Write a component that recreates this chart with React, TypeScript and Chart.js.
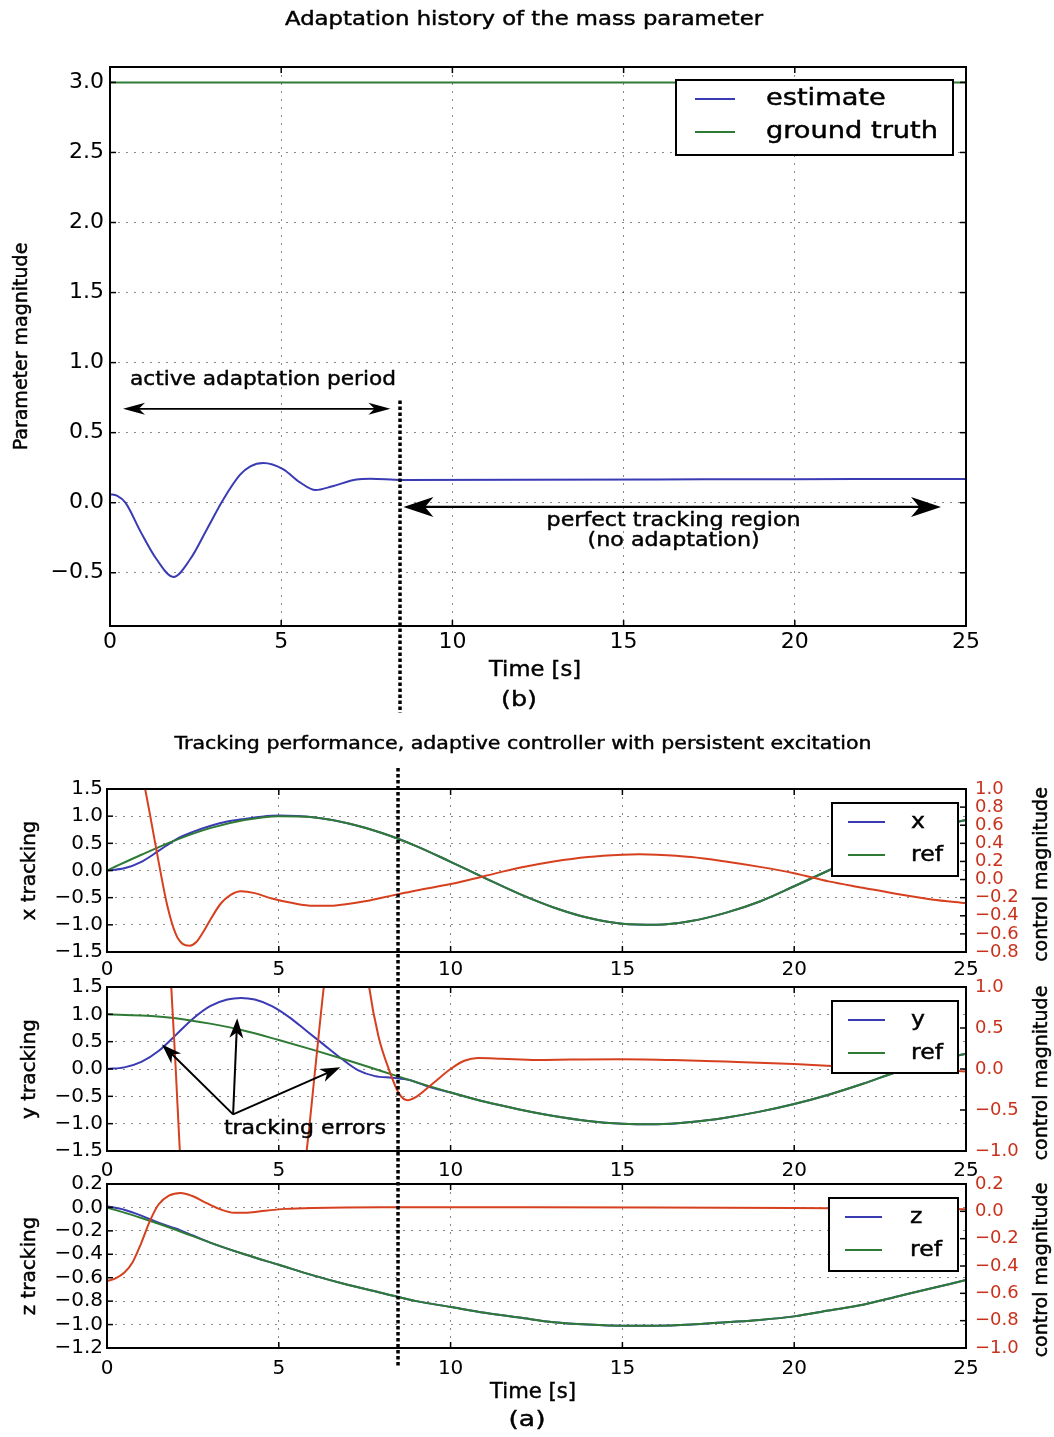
import { useEffect, useRef } from 'react';
import { Chart, registerables } from 'chart.js';

Chart.register(...registerables);

// ---------------- shared time axis ----------------
const timeTicks = [0, 5, 10, 15, 20, 25];
const adaptationEnd = 8.47;

// ---------------- (b) mass parameter adaptation ----------------
const massTicks = [-0.5, 0, 0.5, 1, 1.5, 2, 2.5, 3];
const massEstimateTime = [0, 0.2, 0.45, 0.9, 1.35, 1.85, 2.35, 2.85, 3.3, 3.8, 4.1, 4.48, 5.05, 5.55, 6.0, 6.5, 7.2, 7.6, 8.5, 12, 16, 20, 25];
const massEstimate = [0.06, 0.05, 0.0, -0.21, -0.4, -0.53, -0.4, -0.18, 0.02, 0.2, 0.26, 0.283, 0.24, 0.145, 0.09, 0.118, 0.166, 0.171, 0.163, 0.164, 0.166, 0.168, 0.17];
const massTruthTime = [0, 25];
const massTruth = [3.0, 3.0];

// ---------------- (a) tracking, x ----------------
const trackTicks = [-1.5, -1, -0.5, 0, 0.5, 1, 1.5];
const xCtrlTicks = [-0.8, -0.6, -0.4, -0.2, 0, 0.2, 0.4, 0.6, 0.8, 1.0];
const xRefTime = [0, 1, 2, 3, 4, 5, 6, 7, 8, 9, 10, 11, 12, 13, 14, 15, 16, 17, 18, 19, 20, 21, 22, 23, 24, 25];
const xRef = [0.0, 0.29, 0.56, 0.78, 0.93, 1.0, 0.98, 0.87, 0.69, 0.45, 0.16, -0.14, -0.43, -0.68, -0.87, -0.98, -1.0, -0.93, -0.78, -0.57, -0.29, 0.0, 0.29, 0.56, 0.78, 0.93];
const xActTime = [0, 0.5, 1, 1.5, 2, 2.5, 3, 3.5, 4, 4.5, 5, 6, 7, 8, 9, 10, 11, 12, 13, 14, 15, 16, 17, 18, 19, 20, 21, 22, 23, 24, 25];
const xAct = [0.0, 0.04, 0.16, 0.36, 0.57, 0.71, 0.82, 0.9, 0.95, 0.99, 1.01, 0.98, 0.87, 0.69, 0.45, 0.16, -0.14, -0.43, -0.68, -0.87, -0.98, -1.0, -0.93, -0.78, -0.57, -0.29, 0.0, 0.29, 0.56, 0.78, 0.93];
const xCtrlTime = [0, 0.5, 1.0, 1.25, 1.5, 1.75, 2.0, 2.2, 2.4, 2.6, 2.8, 3.0, 3.3, 3.6, 3.9, 4.3, 4.8, 5.4, 6.0, 6.5, 7.0, 7.5, 8.0, 8.5, 9.0, 10, 11, 12, 13, 14, 15, 15.5, 16, 17, 18, 19, 20, 21, 22, 23, 24, 25];
const xCtrl = [3.1, 2.2, 1.22, 0.72, 0.2, -0.28, -0.6, -0.71, -0.73, -0.69, -0.58, -0.45, -0.27, -0.17, -0.13, -0.15, -0.21, -0.26, -0.29, -0.29, -0.27, -0.24, -0.2, -0.16, -0.12, -0.05, 0.04, 0.13, 0.2, 0.25, 0.275, 0.28, 0.275, 0.25, 0.2, 0.14, 0.07, -0.02, -0.09, -0.16, -0.22, -0.26];

// ---------------- (a) tracking, y ----------------
const yCtrlTicks = [-1, -0.5, 0, 0.5, 1];
const yRefTime = [0, 1, 2, 3, 4, 5, 6, 7, 8, 9, 10, 11, 12, 13, 14, 15, 16, 17, 18, 19, 20, 21, 22, 23, 24, 25];
const yRef = [1.0, 0.98, 0.93, 0.83, 0.7, 0.53, 0.35, 0.16, -0.04, -0.24, -0.43, -0.6, -0.74, -0.86, -0.95, -1.0, -1.01, -0.97, -0.89, -0.78, -0.64, -0.47, -0.27, -0.05, 0.13, 0.28];
const yActTime = [0, 0.5, 1.0, 1.5, 2.0, 2.5, 3.0, 3.5, 3.9, 4.3, 4.8, 5.3, 5.8, 6.3, 6.8, 7.3, 7.8, 8.3, 8.8, 9.3, 10, 11, 12, 13, 14, 15, 16, 17, 18, 19, 20, 21, 22, 23, 24, 25];
const yAct = [0.0, 0.03, 0.13, 0.33, 0.62, 0.92, 1.15, 1.27, 1.3, 1.27, 1.15, 0.95, 0.7, 0.45, 0.2, -0.02, -0.13, -0.16, -0.2, -0.31, -0.43, -0.6, -0.74, -0.86, -0.95, -1.0, -1.01, -0.97, -0.89, -0.78, -0.64, -0.47, -0.27, -0.05, 0.13, 0.28];
const yCtrlTime = [0, 1.0, 1.6, 1.87, 2.0, 2.12, 2.5, 3.5, 4.5, 5.3, 5.81, 6.06, 6.31, 6.8, 7.2, 7.63, 7.9, 8.2, 8.5, 8.75, 9.0, 9.5, 10, 10.4, 10.8, 11.5, 12.5, 13.5, 15, 16.5, 18, 20, 22, 23.5, 25];
const yCtrl = [6.0, 4.5, 2.6, 1.0, 0.0, -1.0, -3.5, -5.0, -4.5, -2.5, -1.0, 0.0, 1.0, 2.6, 2.6, 1.0, 0.4, 0.0, -0.3, -0.38, -0.34, -0.17, 0.0, 0.1, 0.135, 0.125, 0.11, 0.115, 0.12, 0.11, 0.09, 0.06, 0.02, 0.0, -0.03];

// ---------------- (a) tracking, z ----------------
const zTrackTicks = [-1.2, -1, -0.8, -0.6, -0.4, -0.2, 0, 0.2];
const zCtrlTicks = [-1, -0.8, -0.6, -0.4, -0.2, 0, 0.2];
const zRefTime = [0, 1, 2, 3, 4, 5, 6, 7, 8, 9, 10, 11, 12, 13, 14, 15, 16, 17, 18, 19, 20, 21, 22, 23, 24, 25];
const zRef = [0.0, -0.09, -0.19, -0.3, -0.4, -0.49, -0.58, -0.66, -0.73, -0.8, -0.85, -0.9, -0.94, -0.98, -1.0, -1.01, -1.01, -1.0, -0.98, -0.96, -0.93, -0.88, -0.83, -0.76, -0.69, -0.62];
const zActTime = [0, 0.5, 1, 1.5, 2, 2.5, 3, 4, 5, 6, 7, 8, 9, 10, 11, 12, 13, 14, 15, 16, 17, 18, 19, 20, 21, 22, 23, 24, 25];
const zAct = [0.01, -0.02, -0.07, -0.13, -0.18, -0.24, -0.3, -0.4, -0.49, -0.58, -0.66, -0.73, -0.8, -0.85, -0.9, -0.94, -0.98, -1.0, -1.01, -1.01, -1.0, -0.98, -0.96, -0.93, -0.88, -0.83, -0.76, -0.69, -0.62];
const zCtrlTime = [0, 0.25, 0.5, 0.75, 1.0, 1.25, 1.5, 1.8, 2.15, 2.5, 2.9, 3.3, 3.7, 4.1, 4.6, 5.2, 6, 8, 12, 16, 20, 25];
const zCtrl = [-0.51, -0.49, -0.45, -0.37, -0.23, -0.07, 0.05, 0.115, 0.135, 0.11, 0.06, 0.015, -0.01, -0.01, 0.005, 0.018, 0.025, 0.03, 0.03, 0.028, 0.024, 0.015];

// ---------------- styling / layout ----------------
const PAGE_W = 1054;
const PAGE_H = 1437;
const LEFT_AXIS_W = 90;
const RIGHT_AXIS_W = 70;
const BOTTOM_AXIS_H = 40;
const TICK_LEN = 6;

const BLUE = '#3a3ab4';
const GREEN = '#2f7b35';
const RED = '#d6401f';
const RED_TEXT = '#c8321c';
const GRID_COLOR = 'rgba(40,40,40,0.55)';
const FAMILY = '"DejaVu Sans", "Liberation Sans", sans-serif';
const TEXT_WEIGHT = 0.45; // faint outline that thickens the annotation glyphs

type Area = { left: number; top: number; right: number; bottom: number };
const AREA_B: Area = { left: 110, top: 67, right: 966, bottom: 626 };
const AREA_X: Area = { left: 107, top: 789, right: 966, bottom: 952 };
const AREA_Y: Area = { left: 107, top: 987, right: 966, bottom: 1151 };
const AREA_Z: Area = { left: 107, top: 1184, right: 966, bottom: 1348 };

type AxisSpec = { min: number; max: number; ticks: number[]; size: number; pad: number; color: string };
type PanelSpec = {
  area: Area;
  y: AxisSpec;
  y2?: AxisSpec;
  xSize: number;
  xPad: number;
  datasets: any[];
  draw: (chart: any, ctx: CanvasRenderingContext2D) => void;
};

const pts = (t: number[], v: number[]) => t.map((x, i) => ({ x, y: v[i] }));
const fmtDec = (v: number) => (Math.abs(v) < 1e-9 ? 0 : v).toFixed(1).replace('-', '\u2212');

const series = (t: number[], v: number[], color: string, axis: string, order: number) => ({
  data: pts(t, v),
  borderColor: color,
  backgroundColor: color,
  borderWidth: 2,
  pointRadius: 0,
  fill: false,
  cubicInterpolationMode: 'monotone',
  yAxisID: axis,
  order,
});

// ---------------- drawing helpers ----------------
function stretchText(ctx: CanvasRenderingContext2D, s: string, x: number, y: number, size: number, sx: number, align: CanvasTextAlign = 'center', color = '#000') {
  ctx.save();
  ctx.font = `${size}px ${FAMILY}`;
  ctx.translate(x, y);
  ctx.scale(sx, 1);
  ctx.textAlign = align;
  ctx.textBaseline = 'middle';
  ctx.fillStyle = color;
  ctx.strokeStyle = color;
  ctx.lineWidth = TEXT_WEIGHT;
  ctx.fillText(s, 0, 0);
  ctx.strokeText(s, 0, 0);
  ctx.restore();
}

function fitText(ctx: CanvasRenderingContext2D, s: string, x: number, y: number, size: number, width: number, align: CanvasTextAlign = 'center') {
  ctx.save();
  ctx.font = `${size}px ${FAMILY}`;
  const natural = ctx.measureText(s).width || 1;
  ctx.restore();
  stretchText(ctx, s, x, y, size, width / natural, align);
}

function rotText(ctx: CanvasRenderingContext2D, s: string, x: number, y: number, size: number) {
  ctx.save();
  ctx.font = `${size}px ${FAMILY}`;
  ctx.translate(x, y);
  ctx.rotate(-Math.PI / 2);
  ctx.textAlign = 'center';
  ctx.textBaseline = 'middle';
  ctx.fillStyle = '#000';
  ctx.strokeStyle = '#000';
  ctx.lineWidth = TEXT_WEIGHT;
  ctx.fillText(s, 0, 0);
  ctx.strokeText(s, 0, 0);
  ctx.restore();
}

function dottedV(ctx: CanvasRenderingContext2D, x: number, y0: number, y1: number) {
  ctx.save();
  ctx.strokeStyle = '#000';
  ctx.lineWidth = 3.5;
  ctx.setLineDash([3.5, 2.5]);
  ctx.beginPath();
  ctx.moveTo(x, y0);
  ctx.lineTo(x, y1);
  ctx.stroke();
  ctx.restore();
}

function head(ctx: CanvasRenderingContext2D, tx: number, ty: number, fx: number, fy: number, len: number, half: number) {
  const ang = Math.atan2(ty - fy, tx - fx);
  const c = Math.cos(ang);
  const s = Math.sin(ang);
  const bx = tx - len * c;
  const by = ty - len * s;
  const nx = tx - len * 0.72 * c;
  const ny = ty - len * 0.72 * s;
  ctx.beginPath();
  ctx.moveTo(tx, ty);
  ctx.lineTo(bx - half * s, by + half * c);
  ctx.lineTo(nx, ny);
  ctx.lineTo(bx + half * s, by - half * c);
  ctx.closePath();
  ctx.fill();
}

function arrow(ctx: CanvasRenderingContext2D, fx: number, fy: number, tx: number, ty: number, lw: number, len: number, half: number, both = false) {
  ctx.save();
  ctx.strokeStyle = '#000';
  ctx.fillStyle = '#000';
  ctx.lineWidth = lw;
  const ang = Math.atan2(ty - fy, tx - fx);
  const c = Math.cos(ang);
  const s = Math.sin(ang);
  const ex = tx - len * 0.6 * c;
  const ey = ty - len * 0.6 * s;
  const sx0 = both ? fx + len * 0.6 * c : fx;
  const sy0 = both ? fy + len * 0.6 * s : fy;
  ctx.beginPath();
  ctx.moveTo(sx0, sy0);
  ctx.lineTo(ex, ey);
  ctx.stroke();
  head(ctx, tx, ty, fx, fy, len, half);
  if (both) head(ctx, fx, fy, tx, ty, len, half);
  ctx.restore();
}

type LegendRow = { label: string; color: string };
function legendBox(
  ctx: CanvasRenderingContext2D,
  x: number, y: number, w: number, h: number,
  rows: LegendRow[],
  lineX0: number, lineX1: number, textX: number, rowYs: number[],
  size: number, widestTarget: number,
) {
  ctx.save();
  ctx.fillStyle = '#fff';
  ctx.fillRect(x, y, w, h);
  ctx.strokeStyle = '#000';
  ctx.lineWidth = 2;
  ctx.strokeRect(x, y, w, h);
  ctx.font = `${size}px ${FAMILY}`;
  const widest = Math.max(...rows.map(r => ctx.measureText(r.label).width));
  const sx = widestTarget / widest;
  rows.forEach((r, i) => {
    const ry = y + rowYs[i];
    ctx.strokeStyle = r.color;
    ctx.lineWidth = 2;
    ctx.beginPath();
    ctx.moveTo(x + lineX0, ry);
    ctx.lineTo(x + lineX1, ry);
    ctx.stroke();
    stretchText(ctx, r.label, x + textX, ry, size, sx, 'left');
  });
  ctx.restore();
}

// ---------------- chart construction ----------------
function yAxis(spec: AxisSpec, position: 'left' | 'right', onArea: boolean) {
  return {
    type: 'linear',
    position,
    min: spec.min,
    max: spec.max,
    afterBuildTicks: (s: any) => {
      s.ticks = spec.ticks.map(value => ({ value }));
    },
    afterFit: (s: any) => {
      s.width = position === 'left' ? LEFT_AXIS_W : RIGHT_AXIS_W;
      s.paddingTop = 0;
      s.paddingBottom = 0;
      s.paddingLeft = 0;
      s.paddingRight = 0;
    },
    ticks: {
      autoSkip: false,
      padding: spec.pad,
      color: spec.color,
      font: { family: FAMILY, size: spec.size },
      callback: (v: any) => fmtDec(Number(v)),
    },
    grid: { drawOnChartArea: onArea, drawTicks: false, color: GRID_COLOR, lineWidth: 1 },
    border: { display: false, dash: [2, 6] },
  };
}

function makeChart(canvas: HTMLCanvasElement, spec: PanelSpec) {
  const a = spec.area;
  const scales: any = {
    x: {
      type: 'linear',
      position: 'bottom',
      min: 0,
      max: 25,
      afterBuildTicks: (s: any) => {
        s.ticks = timeTicks.map(value => ({ value }));
      },
      afterFit: (s: any) => {
        s.height = BOTTOM_AXIS_H;
        s.paddingLeft = 0;
        s.paddingRight = 0;
        s.paddingTop = 0;
        s.paddingBottom = 0;
      },
      ticks: {
        autoSkip: false,
        maxRotation: 0,
        minRotation: 0,
        padding: spec.xPad,
        color: '#000',
        font: { family: FAMILY, size: spec.xSize },
        callback: (v: any) => String(v),
      },
      grid: { drawTicks: false, color: GRID_COLOR, lineWidth: 1 },
      border: { display: false, dash: [2, 6] },
    },
    y: yAxis(spec.y, 'left', true),
  };
  if (spec.y2) scales.y2 = yAxis(spec.y2, 'right', false);

  const frame = {
    id: 'frameAndNotes',
    afterDraw(chart: any) {
      const ctx: CanvasRenderingContext2D = chart.ctx;
      const c = chart.chartArea;
      ctx.save();
      ctx.strokeStyle = '#000';
      ctx.lineWidth = 1.5;
      const seg = (x0: number, y0: number, x1: number, y1: number) => {
        ctx.beginPath();
        ctx.moveTo(x0, y0);
        ctx.lineTo(x1, y1);
        ctx.stroke();
      };
      for (const t of chart.scales.x.ticks) {
        const px = chart.scales.x.getPixelForValue(t.value);
        seg(px, c.bottom, px, c.bottom - TICK_LEN);
        seg(px, c.top, px, c.top + TICK_LEN);
      }
      for (const t of chart.scales.y.ticks) {
        const py = chart.scales.y.getPixelForValue(t.value);
        seg(c.left, py, c.left + TICK_LEN, py);
        if (!chart.scales.y2) seg(c.right, py, c.right - TICK_LEN, py);
      }
      if (chart.scales.y2) {
        for (const t of chart.scales.y2.ticks) {
          const py = chart.scales.y2.getPixelForValue(t.value);
          seg(c.right, py, c.right - TICK_LEN, py);
        }
      }
      ctx.lineWidth = 2;
      ctx.strokeRect(c.left, c.top, c.right - c.left, c.bottom - c.top);
      ctx.restore();
      spec.draw(chart, ctx);
    },
  };

  return new Chart(canvas, {
    type: 'line',
    data: { datasets: spec.datasets },
    options: {
      responsive: false,
      animation: false,
      devicePixelRatio: 1,
      events: [],
      layout: {
        padding: {
          left: a.left - LEFT_AXIS_W,
          right: PAGE_W - a.right - (spec.y2 ? RIGHT_AXIS_W : 0),
          top: a.top,
          bottom: PAGE_H - a.bottom - BOTTOM_AXIS_H,
        },
      },
      elements: { line: { capBezierPoints: false } },
      plugins: { legend: { display: false }, tooltip: { enabled: false }, title: { display: false } },
      scales,
    } as any,
    plugins: [frame],
  } as any);
}

const panelMid = (a: Area) => (a.top + a.bottom) / 2;

function buildSpecs(): PanelSpec[] {
  const adaptation: PanelSpec = {
    area: AREA_B,
    y: { min: -0.88, max: 3.11, ticks: massTicks, size: 22, pad: 6, color: '#000' },
    xSize: 22,
    xPad: 3,
    datasets: [
      series(massEstimateTime, massEstimate, BLUE, 'y', 1),
      series(massTruthTime, massTruth, GREEN, 'y', 0),
    ],
    draw: (chart, ctx) => {
      const a = chart.chartArea;
      const X = (t: number) => chart.scales.x.getPixelForValue(t);
      const Y = (v: number) => chart.scales.y.getPixelForValue(v);
      fitText(ctx, 'Adaptation history of the mass parameter', 524, 20, 19, 478);
      rotText(ctx, 'Parameter magnitude', 22, panelMid(AREA_B), 19);
      fitText(ctx, 'Time [s]', 535, a.bottom + 45, 21, 92);
      fitText(ctx, '(b)', 519, a.bottom + 74, 22, 36);
      // end of the adaptation phase
      dottedV(ctx, X(adaptationEnd), Y(0.73), a.bottom + 87);
      arrow(ctx, X(0.38), Y(0.67), X(8.19), Y(0.67), 1.6, 22, 6, true);
      fitText(ctx, 'active adaptation period', X(4.47), Y(0.88), 20, 266);
      arrow(ctx, X(8.57), Y(-0.03), X(24.27), Y(-0.03), 2.2, 30, 10, true);
      fitText(ctx, 'perfect tracking region', X(16.46), Y(-0.13), 20, 254);
      fitText(ctx, '(no adaptation)', X(16.46), Y(-0.27), 20, 172);
      legendBox(ctx, 676, 80, 277, 75,
        [{ label: 'estimate', color: BLUE }, { label: 'ground truth', color: GREEN }],
        19, 59, 90, [19, 52], 23, 172);
    },
  };

  const trackX: PanelSpec = {
    area: AREA_X,
    y: { min: -1.5, max: 1.5, ticks: trackTicks, size: 20, pad: 4, color: '#000' },
    y2: { min: -0.8, max: 1.0, ticks: xCtrlTicks, size: 18, pad: 9, color: RED_TEXT },
    xSize: 20,
    xPad: 6,
    datasets: [
      series(xCtrlTime, xCtrl, RED, 'y2', 0),
      series(xRefTime, xRef, GREEN, 'y', 1),
      series(xActTime, xAct, BLUE, 'y', 2),
    ],
    draw: (chart, ctx) => {
      fitText(ctx, 'Tracking performance, adaptive controller with persistent excitation', 523, 744, 18, 697);
      rotText(ctx, 'x tracking', 30, panelMid(AREA_X), 20);
      rotText(ctx, 'control magnitude', 1042, panelMid(AREA_X) + 4, 19);
      legendBox(ctx, 832, 803, 126, 73,
        [{ label: 'x', color: BLUE }, { label: 'ref', color: GREEN }],
        16, 53, 79, [19, 52], 22, 32);
    },
  };

  const trackY: PanelSpec = {
    area: AREA_Y,
    y: { min: -1.5, max: 1.5, ticks: trackTicks, size: 20, pad: 4, color: '#000' },
    y2: { min: -1.0, max: 1.0, ticks: yCtrlTicks, size: 18, pad: 9, color: RED_TEXT },
    xSize: 20,
    xPad: 8,
    datasets: [
      series(yCtrlTime, yCtrl, RED, 'y2', 0),
      series(yRefTime, yRef, GREEN, 'y', 1),
      series(yActTime, yAct, BLUE, 'y', 2),
    ],
    draw: (chart, ctx) => {
      const X = (t: number) => chart.scales.x.getPixelForValue(t);
      const Y = (v: number) => chart.scales.y.getPixelForValue(v);
      rotText(ctx, 'y tracking', 30, panelMid(AREA_Y), 20);
      rotText(ctx, 'control magnitude', 1042, panelMid(AREA_Y) + 4, 19);
      legendBox(ctx, 832, 1001, 126, 72,
        [{ label: 'y', color: BLUE }, { label: 'ref', color: GREEN }],
        16, 53, 79, [19, 52], 22, 32);
      const ox = X(3.67);
      const oy = Y(-0.83);
      arrow(ctx, ox, oy, X(1.6), Y(0.45), 2, 20, 7);
      arrow(ctx, ox, oy, X(3.79), Y(0.93), 2, 20, 7);
      arrow(ctx, ox, oy, X(6.79), Y(0.03), 2, 20, 7);
      fitText(ctx, 'tracking errors', X(5.76), Y(-1.1), 20, 162);
    },
  };

  const trackZ: PanelSpec = {
    area: AREA_Z,
    y: { min: -1.2, max: 0.2, ticks: zTrackTicks, size: 20, pad: 4, color: '#000' },
    y2: { min: -1.0, max: 0.2, ticks: zCtrlTicks, size: 18, pad: 9, color: RED_TEXT },
    xSize: 20,
    xPad: 9,
    datasets: [
      series(zCtrlTime, zCtrl, RED, 'y2', 0),
      series(zRefTime, zRef, GREEN, 'y', 1),
      series(zActTime, zAct, BLUE, 'y', 2),
    ],
    draw: (chart, ctx) => {
      const a = chart.chartArea;
      const X = (t: number) => chart.scales.x.getPixelForValue(t);
      rotText(ctx, 'z tracking', 30, panelMid(AREA_Z), 20);
      rotText(ctx, 'control magnitude', 1042, panelMid(AREA_Z) + 4, 19);
      legendBox(ctx, 829, 1198, 129, 73,
        [{ label: 'z', color: BLUE }, { label: 'ref', color: GREEN }],
        16, 53, 81, [19, 52], 22, 32);
      fitText(ctx, 'Time [s]', 533, a.bottom + 45, 21, 86);
      fitText(ctx, '(a)', 527, a.bottom + 72, 22, 37);
      // end of the adaptation phase, across all three tracking panels
      dottedV(ctx, X(adaptationEnd), AREA_X.top - 21, a.bottom + 20);
    },
  };

  return [adaptation, trackX, trackY, trackZ];
}

export default function App() {
  const canvases = useRef<(HTMLCanvasElement | null)[]>([]);

  useEffect(() => {
    const specs = buildSpecs();
    const charts = specs.map((spec, i) => makeChart(canvases.current[i] as HTMLCanvasElement, spec));
    return () => charts.forEach(c => c.destroy());
  }, []);

  return (
    <div style={{ position: 'absolute', left: 0, top: 0, width: PAGE_W, height: PAGE_H, background: '#fff', overflow: 'hidden' }}>
      {[0, 1, 2, 3].map(i => (
        <canvas
          key={i}
          ref={el => { canvases.current[i] = el; }}
          width={PAGE_W}
          height={PAGE_H}
          style={{ position: 'absolute', left: 0, top: 0, width: PAGE_W, height: PAGE_H }}
        />
      ))}
    </div>
  );
}
